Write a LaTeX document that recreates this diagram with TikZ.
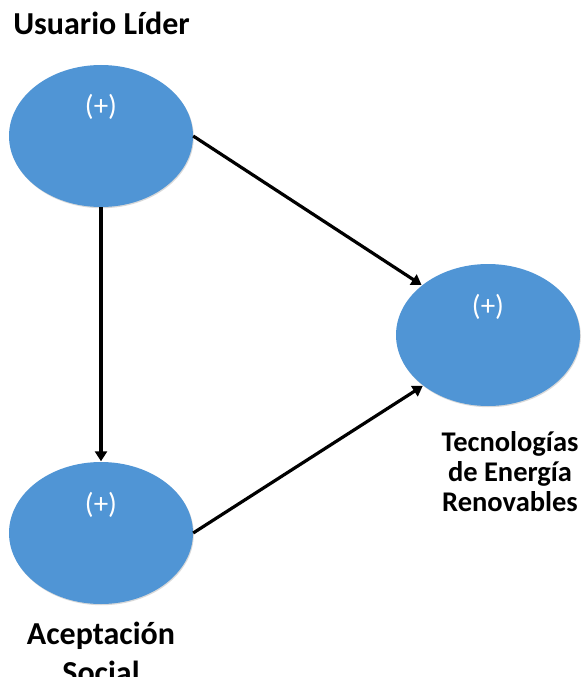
\documentclass[tikz,border=0pt]{standalone}
\usepackage{fontspec}
\setmainfont{Carlito}
\usetikzlibrary{shapes.geometric,arrows.meta,shadows}
\definecolor{construct}{HTML}{5095D5}
\tikzset{
  construct/.style={ellipse, fill=construct, draw=none,
    minimum width=184pt, minimum height=142pt, inner sep=0pt,
    drop shadow={shadow xshift=0.8pt, shadow yshift=-1.2pt, opacity=0.25, fill=black!60}},
  sign/.style={text=white, font=\fontsize{29}{30}\selectfont, inner sep=0pt},
  biglabel/.style={font=\fontsize{32}{39}\selectfont\bfseries, align=center, inner sep=0pt},
  smalllabel/.style={font=\fontsize{28.5}{30}\selectfont\bfseries, align=center, inner sep=0pt},
  path/.style={line width=3.2pt, -{Triangle[length=10pt,width=12pt]}, shorten >=0.5pt}
}
\begin{document}
\begin{tikzpicture}[x=1pt,y=-1pt]
  \useasboundingbox (0,0) rectangle (582,677);
  % latent constructs
  \node[construct] (lider) at (101,136) {};
  \node[construct] (tecno) at (488,335) {};
  \node[construct] (social) at (101,533) {};
  % sign of each construct
  \node[sign] (slider) at (101,107) {(+)};
  \node[sign] (stecno) at (488,307) {(+)};
  \node[sign] (ssocial) at (101,505) {(+)};
  % construct names (base anchor = baseline of the last line)
  \node[biglabel, anchor=base] (nlider) at (101.5,35) {Usuario Líder};
  \node[smalllabel, anchor=base] (ntecno) at (510,511.5) {Tecnologías\\de Energía\\Renovables};
  \node[biglabel, anchor=base] (nsocial) at (101,683) {Aceptación\\Social};
  % hypothesised relations
  \draw[path] (lider.east) -- (tecno.143);
  \draw[path] (lider.south) -- (social.north);
  \draw[path] (social.east) -- (tecno.218);
\end{tikzpicture}
\end{document}
